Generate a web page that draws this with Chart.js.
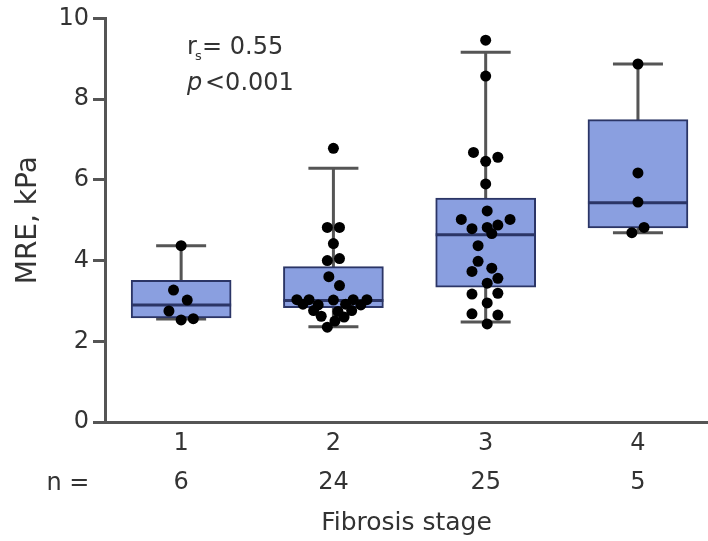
<!DOCTYPE html>
<html>
<head>
<meta charset="utf-8">
<script src="https://cdn.jsdelivr.net/npm/chart.js@4"></script>
<style>
  body { margin: 0; background: #fff; }
  #wrap { width: 708px; height: 541px; }
</style>
</head>
<body>
<div id="wrap"><canvas id="chart" width="708" height="541"></canvas></div>
<script>
// fibrosis stage groups
const stages = ['1', '2', '3', '4'];
const counts = [6, 24, 25, 5];

// box plot summary (kPa)
const q1 = [2.58, 2.83, 3.34, 4.81];
const medians = [2.90, 3.01, 4.64, 5.43];
const q3 = [3.51, 3.85, 5.55, 7.49];
const whiskerLow = [2.55, 2.36, 2.48, 4.69];
const whiskerHigh = [4.37, 6.29, 9.16, 8.87];

// individual MRE values per stage, with horizontal spread (in stage units)
const stage1Values = [4.37, 3.27, 3.02, 2.75, 2.53, 2.56];
const stage1Spread = [0, -0.05, 0.04, -0.08, 0, 0.08];
const stage2Values = [6.78, 4.82, 4.82, 4.42, 4.0, 4.05, 3.6, 3.38, 3.03, 3.03, 3.02, 3.03, 3.03,
  2.92, 2.90, 2.92, 2.90, 2.76, 2.74, 2.76, 2.62, 2.60, 2.50, 2.35];
const stage2Spread = [0, -0.04, 0.04, 0, -0.04, 0.04, -0.03, 0.04, -0.24, -0.16, 0, 0.13, 0.22,
  -0.2, -0.1, 0.08, 0.18, -0.13, 0.03, 0.12, -0.08, 0.07, 0.01, -0.04];
const stage3Values = [9.46, 8.57, 6.68, 6.56, 6.46, 5.9, 5.23, 5.02, 5.02, 4.79, 4.82, 4.88, 4.67,
  4.37, 3.98, 3.73, 3.81, 3.56, 3.44, 3.17, 3.19, 2.95, 2.68, 2.65, 2.43];
const stage3Spread = [0, 0, -0.08, 0.08, 0, 0, 0.01, -0.16, 0.16, -0.09, 0.01, 0.08, 0.04,
  -0.05, -0.05, -0.09, 0.04, 0.08, 0.01, -0.09, 0.08, 0.01, -0.09, 0.08, 0.01];
const stage4Values = [8.87, 6.17, 5.45, 4.82, 4.69];
const stage4Spread = [0, 0, 0, 0.04, -0.04];

const yTicks = [0, 2, 4, 6, 8, 10];

const groups = [
  [stage1Values, stage1Spread],
  [stage2Values, stage2Spread],
  [stage3Values, stage3Spread],
  [stage4Values, stage4Spread],
];
const points = [];
groups.forEach(([vals, spread], i) => {
  vals.forEach((v, j) => points.push({ x: i + 1 + spread[j], y: v }));
});

const FONT = "'DejaVu Sans', sans-serif";
const AXIS = '#555555';
const TEXT = '#333333';

const whiskerPlugin = {
  id: 'whiskers',
  beforeDatasetsDraw(chart) {
    const { ctx, scales: { x, y } } = chart;
    ctx.save();
    ctx.strokeStyle = AXIS;
    ctx.lineWidth = 3;
    stages.forEach((s, i) => {
      const cx = x.getPixelForValue(i + 1);
      const lo = y.getPixelForValue(whiskerLow[i]);
      const hi = y.getPixelForValue(whiskerHigh[i]);
      ctx.beginPath();
      ctx.moveTo(cx, lo); ctx.lineTo(cx, hi);
      ctx.moveTo(cx - 25, lo); ctx.lineTo(cx + 25, lo);
      ctx.moveTo(cx - 25, hi); ctx.lineTo(cx + 25, hi);
      ctx.stroke();
    });
    ctx.restore();
  },
  afterDatasetDraw(chart, args) {
    if (args.index !== 1) return;
    const { ctx, scales: { x, y } } = chart;
    ctx.save();
    ctx.strokeStyle = '#2b3566';
    ctx.lineWidth = 3;
    stages.forEach((s, i) => {
      const cx = x.getPixelForValue(i + 1);
      const my = y.getPixelForValue(medians[i]);
      ctx.beginPath();
      ctx.moveTo(cx - 50, my); ctx.lineTo(cx + 50, my);
      ctx.stroke();
    });
    ctx.restore();
  },
  afterDraw(chart) {
    const { ctx } = chart;
    ctx.save();
    ctx.fillStyle = TEXT;
    ctx.textBaseline = 'alphabetic';
    ctx.font = `24px ${FONT}`;
    ctx.fillText('r', 187, 54);
    ctx.font = `13px ${FONT}`;
    ctx.fillText('s', 195, 60);
    ctx.font = `24px ${FONT}`;
    ctx.fillText('= 0.55', 202, 54);
    ctx.font = `italic 24px ${FONT}`;
    ctx.fillText('p', 187, 90);
    ctx.font = `24px ${FONT}`;
    ctx.fillText('<0.001', 205, 90);
    ctx.textAlign = 'center';
    ctx.textBaseline = 'middle';
    ctx.fillText('n =', 68, 484);
    ctx.restore();
  }
};

new Chart(document.getElementById('chart'), {
  type: 'bar',
  data: {
    datasets: [
      {
        type: 'scatter',
        data: points,
        pointRadius: 5.5,
        pointBackgroundColor: '#000',
        pointBorderWidth: 0,
        order: 0,
      },
      {
        data: stages.map((s, i) => ({ x: i + 1, y: [q1[i], q3[i]] })),
        backgroundColor: '#8a9fe0',
        borderColor: '#2b3566',
        borderWidth: 2,
        borderSkipped: false,
        barThickness: 100,
        order: 1,
      },
    ],
  },
  options: {
    responsive: false,
    animation: false,
    layout: { autoPadding: false, padding: { top: 15, right: 0, left: 0, bottom: 0 } },
    plugins: { legend: { display: false }, tooltip: { enabled: false } },
    scales: {
      x: {
        type: 'linear',
        offset: false,
        min: 0.5,
        max: 4.46,
        afterBuildTicks: (axis) => { axis.ticks = stages.map((s, i) => ({ value: i + 1 })); },
        afterFit: (axis) => { axis.height = 119; },
        ticks: {
          color: TEXT,
          font: { family: FONT, size: 24, lineHeight: 1.6 },
          padding: 3,
          callback: (v) => [stages[v - 1], String(counts[v - 1])],
        },
        grid: { drawOnChartArea: false, drawTicks: false },
        border: { display: true, color: AXIS, width: 3 },
        title: {
          display: true,
          text: 'Fibrosis stage',
          color: TEXT,
          font: { family: FONT, size: 25 },
          padding: { top: 0, bottom: 3 },
        },
      },
      y: {
        min: 0,
        max: 10,
        afterBuildTicks: (axis) => { axis.ticks = yTicks.map((v) => ({ value: v })); },
        afterFit: (axis) => { axis.width = 105; },
        ticks: {
          color: TEXT,
          font: { family: FONT, size: 24 },
          padding: 4,
        },
        grid: { drawOnChartArea: false, drawTicks: true, tickLength: 12, tickWidth: 3, color: AXIS },
        border: { display: true, color: AXIS, width: 3 },
        title: {
          display: true,
          text: 'MRE, kPa',
          color: TEXT,
          font: { family: FONT, size: 28 },
          padding: { top: 12, bottom: 0 },
        },
      },
    },
  },
  plugins: [whiskerPlugin],
});
</script>
</body>
</html>
